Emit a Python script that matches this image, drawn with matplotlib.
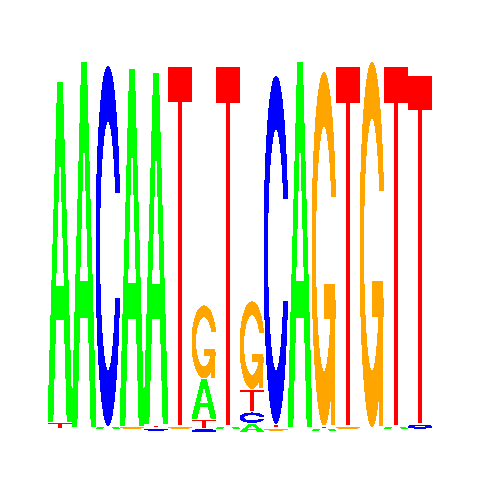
import numpy as np
import matplotlib
matplotlib.use("Agg")
import matplotlib.pyplot as plt
from matplotlib.patches import Polygon

# Letter heights (bits) per position, as drawn in the logo
positions = list(range(1, 17))
height_A = [1.763, 1.893, 0.005, 1.854, 1.825, 0.0, 0.200, 0.005, 0.040, 0.0, 1.893, 0.003, 0.0, 0.0, 0.004, 0.0]
height_C = [0.0, 0.0, 1.868, 0.0, 0.004, 0.0, 0.012, 0.0, 0.049, 1.807, 0.0, 0.0, 0.0, 0.0, 0.0, 0.015]
height_G = [0.0, 0.0, 0.0, 0.005, 0.0, 0.005, 0.375, 0.0, 0.451, 0.005, 0.0, 1.834, 0.004, 1.893, 0.0, 0.0]
height_T = [0.026, 0.0, 0.0, 0.0, 0.008, 1.868, 0.040, 1.866, 0.108, 0.010, 0.0, 0.004, 1.866, 0.0, 1.866, 1.811]

letters = ["A", "C", "G", "T"]
colors = {"A": "#00FF00", "C": "#0000FF", "G": "#FFA500", "T": "#FF0000"}


def shape_C():
    a1 = np.linspace(0.3 + np.pi / 2, np.pi, 100)
    a2 = np.linspace(np.pi, 1.5 * np.pi, 100)
    xl1 = 0.5 + 0.5 * np.sin(a1); yl1 = 0.5 + 0.5 * np.cos(a1)
    xl2 = 0.5 + 0.5 * np.sin(a2); yl2 = 0.5 + 0.5 * np.cos(a2)
    xl = np.concatenate([xl1, xl2]); yl = np.concatenate([yl1, yl2])
    x = np.concatenate([xl, xl[::-1]]); y = np.concatenate([yl, 1 - yl[::-1]])
    xi1 = 0.5 + 0.35 * np.sin(a1); yi1 = 0.5 + 0.35 * np.cos(a1)
    m = yi1 <= yl1.max()
    xi1 = xi1[m]; yi1 = yi1[m].copy(); yi1[0] = yl1.max()
    xi2 = 0.5 + 0.35 * np.sin(a2); yi2 = 0.5 + 0.35 * np.cos(a2)
    xi = np.concatenate([xi1, xi2]); yi = np.concatenate([yi1, yi2])
    x1 = np.concatenate([xi, xi[::-1]]); y1 = np.concatenate([yi, 1 - yi[::-1]])
    x = np.concatenate([x, x1[::-1]]); y = np.concatenate([y, y1[::-1]])
    return x, y, xl1.max()


def letter_polys(letter):
    """Return list of (x, y, fillcolor) in unit box."""
    col = colors[letter]
    if letter == "A":
        xo = np.array([0, 4, 6, 10, 8, 6.8, 3.2, 2, 0]) / 10
        yo = np.array([0, 10, 10, 0, 0, 3, 3, 0, 0]) / 10
        xi = np.array([3.6, 5, 6.4, 3.6]) / 10
        yi = np.array([4, 7.5, 4, 4]) / 10
        return [(xo, yo, col), (xi, yi, "white")]
    if letter == "T":
        x = np.array([0, 10, 10, 6, 6, 4, 4, 0]) / 10
        y = np.array([10, 10, 9, 9, 0, 0, 9, 9]) / 10
        return [(x, y, col)]
    x, y, r1 = shape_C()
    if letter == "C":
        return [(x, y, col)]
    h1 = 0.4
    xa = np.array([r1, 0.5, 0.5, r1 - 0.2, r1 - 0.2, r1, r1])
    ya = np.array([h1, h1, h1 - 0.1, h1 - 0.1, 0, 0, h1])
    return [(x[::-1], y[::-1], col), (xa, ya, col)]


fig = plt.figure(figsize=(4.8, 4.8), dpi=100)
ax = fig.add_axes([0, 0, 1, 1])
ax.set_xlim(-2, 18)
ax.set_ylim(-0.25, 2.25)
ax.axis("off")

heights = {"A": height_A, "C": height_C, "G": height_G, "T": height_T}
for j, pos in enumerate(positions):
    col_h = [heights[l][j] for l in letters]
    order = np.argsort(col_h, kind="stable")
    ypos = 0.0
    for idx in order:
        l = letters[idx]
        ht = col_h[idx]
        if ht > 0:
            for px, py, fc in letter_polys(l):
                ax.add_patch(Polygon(np.column_stack([j + px, ypos + ht * py]),
                                     closed=True, facecolor=fc, edgecolor="none",
                                     linewidth=0, antialiased=False))
        ypos += ht + 0.01

fig.savefig("out.png", dpi=100)
